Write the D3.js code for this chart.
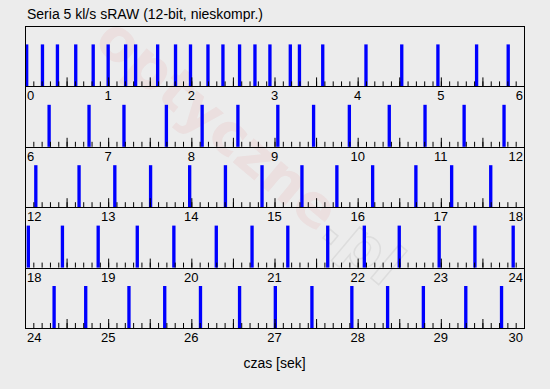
<!DOCTYPE html>
<html>
<head>
<meta charset="utf-8">
<script src="https://cdn.jsdelivr.net/npm/d3@7"></script>
<style>
  body { margin: 0; background: #ececec; }
  text { font-family: "Liberation Sans", Arial, sans-serif; }
</style>
</head>
<body>
<div id="chart"></div>
<script>
// shot times in seconds
var shots = [
  0.00, 0.19, 0.37, 0.59, 0.80, 0.98, 1.19, 1.31, 1.575, 1.79, 1.97, 2.18, 2.36, 2.56, 2.745, 2.925,
  3.17, 3.28, 3.56, 4.08, 4.51, 4.945, 5.41, 5.79,
  6.27, 6.75, 7.17, 7.68, 8.11, 8.54, 9.02, 9.45, 9.88, 10.36, 10.79, 11.26, 11.74,
  12.11, 12.63, 13.06, 13.49, 13.96, 14.39, 14.83, 15.31, 15.73, 16.16, 16.68, 17.11, 17.58,
  18.02, 18.43, 18.86, 19.33, 19.77, 20.28, 20.71, 21.14, 21.62, 22.06, 22.48, 22.96, 23.39, 23.85,
  24.33, 24.71, 25.23, 25.66, 26.09, 26.56, 26.99, 27.43, 27.91, 28.34, 28.77, 29.28, 29.71
];
var rowStarts = [0, 6, 12, 18, 24];
var rowSpan = 6;
var binWidth = 0.04;
var title = "Seria 5 kl/s sRAW (12-bit, nieskompr.)";
var xTitle = "czas [sek]";

var W = 550, H = 389;
var left = 25, right = 524, top0 = 26, rowH = 60.4, barH = 42;

var svg = d3.select("#chart").append("svg")
  .attr("width", W).attr("height", H);

svg.append("rect").attr("width", W).attr("height", H).attr("fill", "#ececec");

// watermark
var wm = svg.append("text")
  .attr("transform", "translate(92,44) rotate(40)")
  .attr("font-size", 58).attr("font-weight", "bold")
  .style("font-family", "'DejaVu Sans', sans-serif");
wm.append("tspan").attr("fill", "#e00000").attr("fill-opacity", 0.055).text("optyczne");
wm.append("tspan").attr("fill", "none").attr("stroke", "#bbb").attr("stroke-opacity", 0.3)
  .attr("stroke-width", 1.5).text(".pl");

svg.append("text")
  .attr("x", 27).attr("y", 19)
  .attr("font-size", 14).attr("fill", "#000")
  .text(title);

rowStarts.forEach(function(start, i) {
  var yTop = top0 + rowH * i, yBot = yTop + rowH;
  var x = d3.scaleLinear().domain([start, start + rowSpan]).range([left, right]);
  var g = svg.append("g");

  // bars
  g.selectAll("rect.bar")
    .data(shots.filter(function(t) { return t >= start && t < start + rowSpan; }))
    .enter().append("rect")
      .attr("class", "bar")
      .attr("x", function(d) { return x(d); })
      .attr("y", yBot - barH)
      .attr("width", x(start + binWidth) - x(start))
      .attr("height", barH)
      .attr("fill", "#0000ff");

  // minor ticks every 0.1 s
  var minor = d3.range(0, rowSpan * 10 + 1).map(function(k) { return start + k / 10; });
  g.append("g")
    .attr("transform", "translate(0," + yBot + ")")
    .call(d3.axisBottom(x).tickValues(minor).tickSize(-5).tickFormat(""))
    .call(function(a) { a.select(".domain").remove(); });

  // taller ticks every 0.5 s
  var major = d3.range(0, rowSpan * 2 + 1).map(function(k) { return start + k / 2; });
  g.append("g")
    .attr("transform", "translate(0," + yBot + ")")
    .call(d3.axisBottom(x).tickValues(major).tickSize(-9).tickFormat(""))
    .call(function(a) { a.select(".domain").remove(); });

  // labels
  var labels = d3.range(start, start + rowSpan + 1);
  g.selectAll("text.lab")
    .data(labels)
    .enter().append("text")
      .attr("class", "lab")
      .attr("x", function(d, j) { return j === 0 ? 27 : (j === labels.length - 1 ? 523 : x(d)); })
      .attr("y", yBot + 14)
      .attr("font-size", 13)
      .attr("text-anchor", function(d, j) { return j === 0 ? "start" : (j === labels.length - 1 ? "end" : "middle"); })
      .text(function(d) { return d; });

  // frame
  g.append("rect")
    .attr("x", left + 0.5).attr("y", Math.round(yTop) + 0.5)
    .attr("width", right - left).attr("height", Math.round(yBot) - Math.round(yTop))
    .attr("fill", "none").attr("stroke", "#000").attr("stroke-width", 1);
});

svg.selectAll(".tick line").attr("stroke", "#000");

svg.append("text")
  .attr("x", (left + right) / 2).attr("y", 368)
  .attr("text-anchor", "middle").attr("font-size", 14)
  .text(xTitle);
</script>
</body>
</html>
